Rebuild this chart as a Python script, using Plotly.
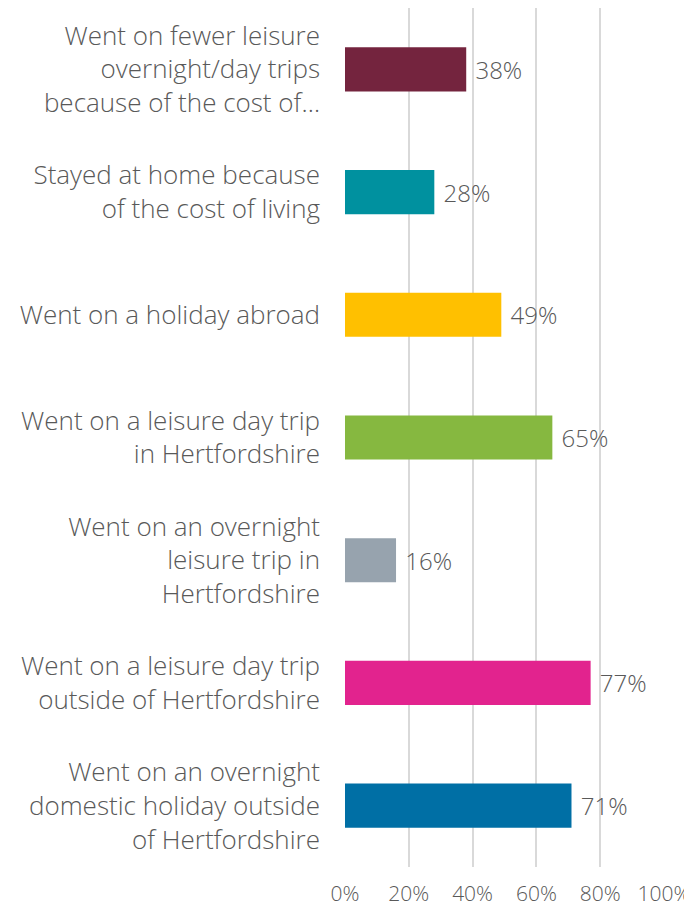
import plotly.graph_objects as go

categories = [
    "Went on fewer leisure<br>overnight/day trips<br>because of the cost of…",
    "Stayed at home because<br>of the cost of living",
    "Went on a holiday abroad",
    "Went on a leisure day trip<br>in Hertfordshire",
    "Went on an overnight<br>leisure trip in<br>Hertfordshire",
    "Went on a leisure day trip<br>outside of Hertfordshire",
    "Went on an overnight<br>domestic holiday outside<br>of Hertfordshire",
]
values = [38, 28, 49, 65, 16, 77, 71]
colors = ["#74243E", "#00919F", "#FFC000", "#86B840", "#97A3AE", "#E2238E", "#006FA5"]
tick_vals = [0, 20, 40, 60, 80, 100]
tick_text = ["0%", "20%", "40%", "60%", "80%", "100%"]

FONT = "Open Sans"
GREY = "#595959"

fig = go.Figure(go.Bar(
    x=values,
    y=categories,
    orientation="h",
    marker=dict(color=colors, line=dict(width=0)),
    text=[f"{v}%" for v in values],
    texttemplate=" %{text}",
    textposition="outside",
    textfont=dict(family=FONT, size=24, color=GREY, weight=300),
    cliponaxis=False,
))

# the page body adds an 8px margin, so the figure is 8px smaller
fig.update_layout(
    width=684,
    height=901,
    margin=dict(l=337, r=28, t=0, b=42, autoexpand=False),
    plot_bgcolor="white",
    paper_bgcolor="white",
    showlegend=False,
    bargap=0.64,
    font=dict(family=FONT, color=GREY),
    xaxis=dict(
        range=[0, 100],
        tickvals=tick_vals,
        ticktext=tick_text,
        tickfont=dict(size=21, color=GREY, weight=300),
        showgrid=True,
        gridcolor="#D9D9D9",
        gridwidth=1.5,
        zeroline=False,
        showline=False,
        ticks="",
        ticklabelstandoff=12,
        automargin=False,
    ),
    yaxis=dict(
        autorange="reversed",
        tickfont=dict(size=26, color=GREY, weight=300),
        showgrid=False,
        showline=False,
        ticks="",
        ticklabelstandoff=24,
        automargin=False,
    ),
)

fig.write_html("out.html")
